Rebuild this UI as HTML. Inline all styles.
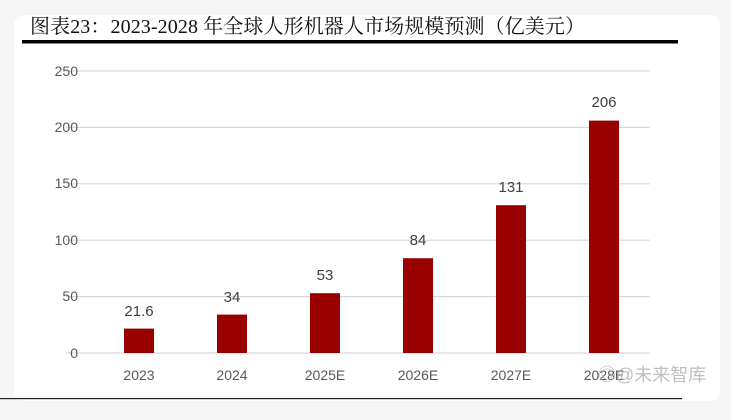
<!DOCTYPE html>
<html><head><meta charset="utf-8"><style>
body{margin:0;width:731px;height:415px;background:#f6f6f6;overflow:hidden;font-family:"Liberation Sans","Noto Sans CJK SC",sans-serif}
</style></head><body>
<svg width="731" height="415" xmlns="http://www.w3.org/2000/svg">
<rect x="14" y="15" width="706" height="386" rx="10" fill="#fff"/>
<text x="30" y="33" font-family="Liberation Serif,Noto Serif CJK SC,serif" font-size="20" fill="#111" textLength="555" lengthAdjust="spacing">图表23：2023-2028 年全球人形机器人市场规模预测（亿美元）</text>
<rect x="22" y="40" width="656" height="3.5" fill="#000"/>
<g stroke="#d9d9d9" stroke-width="1.2">
<line x1="66" y1="71" x2="650" y2="71"/><line x1="66" y1="127.4" x2="650" y2="127.4"/><line x1="66" y1="183.8" x2="650" y2="183.8"/><line x1="66" y1="240.2" x2="650" y2="240.2"/><line x1="66" y1="296.6" x2="650" y2="296.6"/><line x1="66" y1="353" x2="650" y2="353"/>
</g>
<g font-size="14" fill="#595959" text-anchor="end">
<text x="78" y="76">250</text><text x="78" y="132">200</text><text x="78" y="188">150</text><text x="78" y="245">100</text><text x="78" y="301">50</text><text x="78" y="358">0</text>
</g>
<g fill="#990000">
<rect x="124" y="328.6" width="30" height="24.4"/>
<rect x="217" y="314.6" width="30" height="38.4"/>
<rect x="310" y="293.2" width="30" height="59.8"/>
<rect x="403" y="258.2" width="30" height="94.8"/>
<rect x="496" y="205.2" width="30" height="147.8"/>
<rect x="589" y="120.6" width="30" height="232.4"/>
</g>
<g font-size="15" fill="#404040" text-anchor="middle">
<text x="139" y="316">21.6</text><text x="232" y="302">34</text><text x="325" y="280">53</text><text x="418" y="245">84</text><text x="511" y="192">131</text><text x="604" y="107">206</text>
</g>
<g font-size="14" fill="#595959" text-anchor="middle">
<text x="139" y="380">2023</text><text x="232" y="380">2024</text><text x="325" y="380">2025E</text><text x="418" y="380">2026E</text><text x="511" y="380">2027E</text><text x="604" y="380">2028E</text>
</g>
<text x="598" y="381" font-size="18" fill="#b8b8b8" fill-opacity="0.9">◎@未来智库</text>
<rect x="0" y="398" width="682" height="1.2" fill="#222"/>
</svg>
</body></html>
